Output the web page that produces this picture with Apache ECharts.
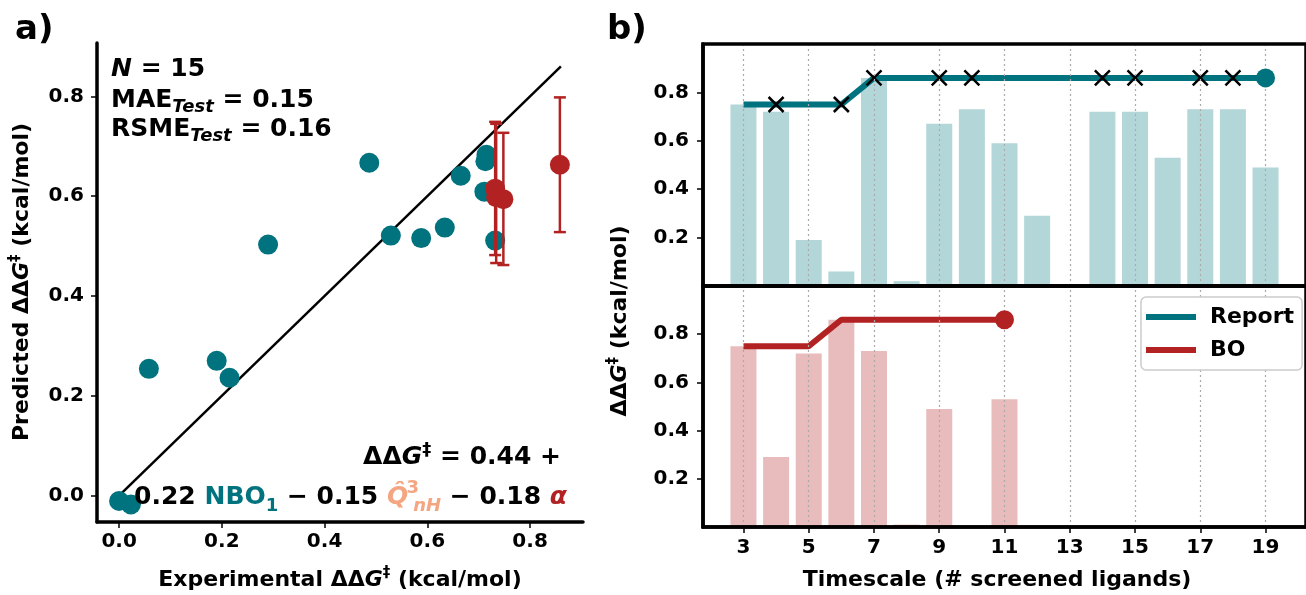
<!DOCTYPE html>
<html><head><meta charset="utf-8">
<script src="https://cdn.jsdelivr.net/npm/echarts@6/dist/echarts.min.js"></script>
<style>html,body{margin:0;padding:0;background:#fff;}#c{width:1306px;height:595px;}</style>
</head><body><div id="c"></div>
<script>
// ---------- Panel a data ----------
const tealX = [0.487, 0.290, 0.058, 0.190, 0.215, 0.529, 0.588, 0.634, 0.665, 0.715, 0.713, 0.711, 0.732, 0.000, 0.023];
const tealY = [0.667, 0.503, 0.254, 0.270, 0.236, 0.521, 0.516, 0.537, 0.641, 0.683, 0.670, 0.609, 0.511, -0.011, -0.018];
const redX  = [0.732, 0.734, 0.748, 0.858];
const redY  = [0.615, 0.598, 0.594, 0.663];
const redLo = [0.482, 0.466, 0.462, 0.528];
const redHi = [0.749, 0.745, 0.727, 0.798];
const parityEnds = [0, 0.86];
const aTicks = [0, 0.2, 0.4, 0.6, 0.8];

// ---------- Panel b data ----------
const timeTicks = [3, 5, 7, 9, 11, 13, 15, 17, 19];
const bYTicks = [0.2, 0.4, 0.6, 0.8];
const reportX   = [3, 4, 5, 6, 7, 8, 9, 10, 11, 12, 14, 15, 16, 17, 18, 19];
const reportVal = [0.75, 0.72, 0.19, 0.06, 0.86, 0.02, 0.67, 0.73, 0.59, 0.29, 0.72, 0.72, 0.53, 0.73, 0.73, 0.49];
const reportBestX = [3, 4, 5, 6, 7, 8, 9, 10, 11, 12, 13, 14, 15, 16, 17, 18, 19];
const reportBest  = [0.75, 0.75, 0.75, 0.75, 0.86, 0.86, 0.86, 0.86, 0.86, 0.86, 0.86, 0.86, 0.86, 0.86, 0.86, 0.86, 0.86];
const reportCrossX = [4, 6, 7, 9, 10, 14, 15, 17, 18];
const reportCrossY = [0.75, 0.75, 0.86, 0.86, 0.86, 0.86, 0.86, 0.86, 0.86];
const boX   = [3, 4, 5, 6, 7, 8, 9, 11];
const boVal = [0.75, 0.29, 0.72, 0.86, 0.73, 0.01, 0.49, 0.53];
const boBestX = [3, 4, 5, 6, 7, 8, 9, 10, 11];
const boBest  = [0.75, 0.75, 0.75, 0.86, 0.86, 0.86, 0.86, 0.86, 0.86];

// ---------- styles ----------
const F = 'DejaVu Sans';
const TEAL = '#00737e', RED = '#b22222', ORANGE = '#f4a582';
const TEAL_BAR = '#b3d6d9', RED_BAR = '#e8bcbc';
const tickLbl = {fontFamily: F, fontWeight: 'bold', fontSize: 20, color: '#000'};
const zip = (a, b) => a.map((v, i) => [v, b[i]]);
const spine = {show: true, onZero: false, lineStyle: {color: '#000', width: 3.5}};
const ticks = vals => ({show: true, length: 6, lineStyle: {color: '#000', width: 1.5}, customValues: vals});

const chart = echarts.init(document.getElementById('c'), null, {renderer: 'canvas'});

function richBase(size) {
  return {
    i: {fontFamily: F, fontWeight: 'bold', fontStyle: 'italic', fontSize: size, fill: '#000'},
    sup: {fontFamily: F, fontWeight: 'bold', fontSize: Math.round(size * 0.7), verticalAlign: 'top', fill: '#000'},
    sub: {fontFamily: F, fontWeight: 'bold', fontStyle: 'italic', fontSize: Math.round(size * 0.72), verticalAlign: 'bottom', fill: '#000'}
  };
}
const gridLines = {silent: true, symbol: ['none', 'none'], label: {show: false},
  lineStyle: {type: [2, 3], color: '#aaaaaa', width: 1.2},
  data: timeTicks.map(v => ({xAxis: v}))};

const option = {
  animation: false,
  backgroundColor: '#fff',
  grid: [
    {left: 97, top: 43, width: 486, height: 479},
    {left: 703, top: 44, width: 608, height: 242, show: true, borderColor: '#000', borderWidth: 3.5, backgroundColor: 'transparent', z: 6},
    {left: 703, top: 286, width: 608, height: 241, show: true, borderColor: '#000', borderWidth: 3.5, backgroundColor: 'transparent', z: 6}
  ],
  xAxis: [
    {gridIndex: 0, type: 'value', min: -0.043, max: 0.903, z: 5, axisLine: spine, axisTick: ticks(aTicks),
     axisLabel: {...tickLbl, margin: 10, customValues: aTicks, formatter: v => v.toFixed(1)},
     splitLine: {show: false}},
    {gridIndex: 1, type: 'value', min: 1.76, max: 20.24, z: 10, axisLine: spine,
     axisTick: {show: false}, axisLabel: {show: false}, splitLine: {show: false}},
    {gridIndex: 2, type: 'value', min: 1.76, max: 20.24, z: 10, axisLine: spine, axisTick: ticks(timeTicks),
     axisLabel: {...tickLbl, margin: 11, customValues: timeTicks, formatter: v => String(v)},
     splitLine: {show: false}}
  ],
  yAxis: [
    {gridIndex: 0, type: 'value', min: -0.053, max: 0.907, z: 5, axisLine: spine, axisTick: ticks(aTicks),
     axisLabel: {...tickLbl, margin: 13, customValues: aTicks, formatter: v => v.toFixed(1)},
     splitLine: {show: false}},
    {gridIndex: 1, type: 'value', min: 0, max: 1.0, z: 10, axisLine: spine, axisTick: ticks(bYTicks),
     axisLabel: {...tickLbl, margin: 14, customValues: bYTicks, formatter: v => v.toFixed(1)},
     splitLine: {show: false}},
    {gridIndex: 2, type: 'value', min: 0, max: 1.0, z: 10, axisLine: spine, axisTick: ticks(bYTicks),
     axisLabel: {...tickLbl, margin: 14, customValues: bYTicks, formatter: v => v.toFixed(1)},
     splitLine: {show: false}}
  ],
  legend: {
    data: ['Report', 'BO'], orient: 'vertical', left: 1141, top: 297,
    icon: 'rect', itemWidth: 50, itemHeight: 6, itemGap: 11,
    textStyle: {fontFamily: F, fontWeight: 'bold', fontSize: 22, color: '#000', padding: [0, 0, 0, 9]},
    borderColor: '#cccccc', borderWidth: 1.5, borderRadius: 5, backgroundColor: '#fff',
    padding: [9, 8, 9, 5], z: 12
  },
  series: [
    // ---- panel a ----
    {type: 'line', xAxisIndex: 0, yAxisIndex: 0, data: zip(parityEnds, parityEnds), symbol: 'none',
     lineStyle: {color: '#000', width: 2.5}, z: 2, silent: true},
    {type: 'scatter', xAxisIndex: 0, yAxisIndex: 0, data: zip(tealX, tealY), symbolSize: 20,
     itemStyle: {color: TEAL, opacity: 1}, z: 3},
    {type: 'custom', xAxisIndex: 0, yAxisIndex: 0, z: 4,
     data: redX.map((x, i) => [x, redLo[i], redHi[i]]),
     encode: {x: 0, y: [1, 2]},
     renderItem: (params, api) => {
       const x = api.value(0);
       const pLo = api.coord([x, api.value(1)]);
       const pHi = api.coord([x, api.value(2)]);
       const cw = 6;
       const st = {stroke: RED, lineWidth: 2.5};
       return {type: 'group', children: [
         {type: 'line', shape: {x1: pLo[0], y1: pLo[1], x2: pHi[0], y2: pHi[1]}, style: st},
         {type: 'line', shape: {x1: pLo[0] - cw, y1: pLo[1], x2: pLo[0] + cw, y2: pLo[1]}, style: st},
         {type: 'line', shape: {x1: pHi[0] - cw, y1: pHi[1], x2: pHi[0] + cw, y2: pHi[1]}, style: st}
       ]};
     }},
    {type: 'scatter', xAxisIndex: 0, yAxisIndex: 0, data: zip(redX, redY), symbolSize: 20,
     itemStyle: {color: RED, opacity: 1}, z: 5},
    // ---- panel b top (Report) ----
    {type: 'bar', xAxisIndex: 1, yAxisIndex: 1, data: zip(reportX, reportVal), barWidth: 26,
     itemStyle: {color: TEAL_BAR}, z: 1, markLine: gridLines},
    {name: 'Report', type: 'line', xAxisIndex: 1, yAxisIndex: 1, data: zip(reportBestX, reportBest),
     symbol: 'none', color: TEAL, lineStyle: {color: TEAL, width: 6}, z: 3},
    {type: 'scatter', xAxisIndex: 1, yAxisIndex: 1, data: zip(reportCrossX, reportCrossY),
     symbol: 'path://M0,0L10,10M0,10L10,0', symbolSize: 15,
     itemStyle: {color: 'transparent', borderColor: '#000', borderWidth: 2.5, opacity: 1}, z: 4},
    {type: 'scatter', xAxisIndex: 1, yAxisIndex: 1,
     data: [[reportBestX[reportBestX.length - 1], reportBest[reportBest.length - 1]]],
     symbolSize: 19, itemStyle: {color: TEAL, opacity: 1}, z: 5},
    // ---- panel b bottom (BO) ----
    {type: 'bar', xAxisIndex: 2, yAxisIndex: 2, data: zip(boX, boVal), barWidth: 26,
     itemStyle: {color: RED_BAR}, z: 1, markLine: gridLines},
    {name: 'BO', type: 'line', xAxisIndex: 2, yAxisIndex: 2, data: zip(boBestX, boBest),
     symbol: 'none', color: RED, lineStyle: {color: RED, width: 6}, z: 3},
    {type: 'scatter', xAxisIndex: 2, yAxisIndex: 2,
     data: [[boBestX[boBestX.length - 1], boBest[boBest.length - 1]]],
     symbolSize: 19, itemStyle: {color: RED, opacity: 1}, z: 5}
  ],
  graphic: [
    {type: 'text', x: 15, y: 30, style: {text: 'a)', fontFamily: F, fontWeight: 'bold', fontSize: 34, fill: '#000', textVerticalAlign: 'middle'}},
    {type: 'text', x: 607, y: 30, style: {text: 'b)', fontFamily: F, fontWeight: 'bold', fontSize: 34, fill: '#000', textVerticalAlign: 'middle'}},
    // stats
    {type: 'text', x: 111, y: 69, z: 10, style: {text: '{i|N} = 15', rich: richBase(25), fontFamily: F, fontWeight: 'bold', fontSize: 25, fill: '#000', textVerticalAlign: 'middle'}},
    {type: 'text', x: 111, y: 100, z: 10, style: {text: 'MAE{sub|Test} = 0.15', rich: richBase(25), lineHeight: 32, fontFamily: F, fontWeight: 'bold', fontSize: 25, fill: '#000', textVerticalAlign: 'middle'}},
    {type: 'text', x: 111, y: 129, z: 10, style: {text: 'RSME{sub|Test} = 0.16', rich: richBase(25), lineHeight: 32, fontFamily: F, fontWeight: 'bold', fontSize: 25, fill: '#000', textVerticalAlign: 'middle'}},
    // equation
    {type: 'text', x: 561, y: 457, z: 10, style: {text: 'ΔΔ{i|G}{sup|‡} = 0.44 +', rich: richBase(25), lineHeight: 32, fontFamily: F, fontWeight: 'bold', fontSize: 25, fill: '#000', textAlign: 'right', textVerticalAlign: 'middle'}},
    {type: 'text', x: 567, y: 497, z: 10, style: {
      text: '0.22 {nbo|NBO}{nbos|1} − 0.15 {q|Q̂}{qsup|3}{qsub|nH} − 0.18 {al|α}',
      rich: {
        nbo: {fontFamily: F, fontWeight: 'bold', fontSize: 25, fill: TEAL},
        nbos: {fontFamily: F, fontWeight: 'bold', fontSize: 18, fill: TEAL, verticalAlign: 'bottom'},
        q: {fontFamily: F, fontWeight: 'bold', fontStyle: 'italic', fontSize: 25, fill: ORANGE},
        qsup: {fontFamily: F, fontWeight: 'bold', fontSize: 18, fill: ORANGE, verticalAlign: 'top', width: 1, align: 'left', padding: [0, 0, 0, 4]},
        qsub: {fontFamily: F, fontWeight: 'bold', fontStyle: 'italic', fontSize: 18, fill: ORANGE, verticalAlign: 'bottom'},
        al: {fontFamily: F, fontWeight: 'bold', fontStyle: 'italic', fontSize: 25, fill: RED}
      },
      lineHeight: 36, fontFamily: F, fontWeight: 'bold', fontSize: 25, fill: '#000', textAlign: 'right', textVerticalAlign: 'middle'}},
    // axis titles
    {type: 'text', x: 340, y: 580, style: {text: 'Experimental ΔΔ{i|G}{sup|‡} (kcal/mol)', rich: richBase(22), lineHeight: 28, fontFamily: F, fontWeight: 'bold', fontSize: 22, fill: '#000', textAlign: 'center', textVerticalAlign: 'middle'}},
    {type: 'text', x: 22, y: 282, rotation: Math.PI / 2, style: {text: 'Predicted ΔΔ{i|G}{sup|‡} (kcal/mol)', rich: richBase(22), lineHeight: 28, fontFamily: F, fontWeight: 'bold', fontSize: 22, fill: '#000', textAlign: 'center', textVerticalAlign: 'middle'}},
    {type: 'text', x: 997, y: 580, style: {text: 'Timescale (# screened ligands)', fontFamily: F, fontWeight: 'bold', fontSize: 22, fill: '#000', textAlign: 'center', textVerticalAlign: 'middle'}},
    {type: 'text', x: 620, y: 321, rotation: Math.PI / 2, style: {text: 'ΔΔ{i|G}{sup|‡} (kcal/mol)', rich: richBase(22), lineHeight: 28, fontFamily: F, fontWeight: 'bold', fontSize: 22, fill: '#000', textAlign: 'center', textVerticalAlign: 'middle'}}
  ]
};
chart.setOption(option);
</script>
</body></html>
